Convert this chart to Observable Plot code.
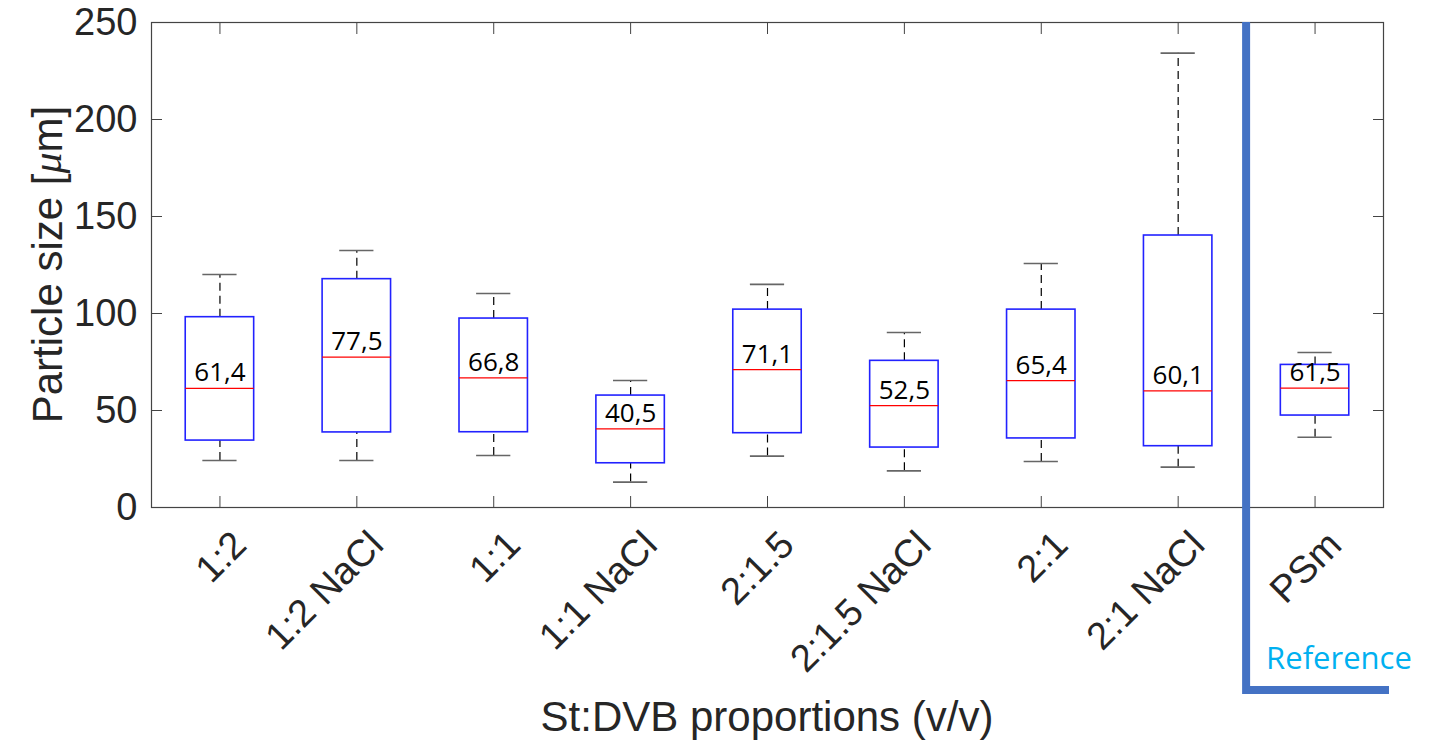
<!DOCTYPE html>
<html><head><meta charset="utf-8">
<script src="https://cdn.jsdelivr.net/npm/d3@7"></script>
<script src="https://cdn.jsdelivr.net/npm/@observablehq/plot@0.6"></script>
<style>body{margin:0;background:#fff;overflow:hidden}</style>
</head><body><div id="chart"></div>
<script>
// ---- data ----
const categories  = ["1:2", "1:2 NaCl", "1:1", "1:1 NaCl", "2:1.5", "2:1.5 NaCl", "2:1", "2:1 NaCl", "PSm"];
const whiskerLow  = [24.2, 24.2, 26.8, 13.1, 26.5, 18.9, 23.7, 20.8, 36.2];
const quartile1   = [34.5, 38.7, 38.8, 22.8, 38.3, 30.9, 35.6, 31.6, 47.4];
const medians     = [61.4, 77.5, 66.8, 40.5, 71.1, 52.5, 65.4, 60.1, 61.5];
const quartile3   = [98.1, 117.7, 97.4, 57.7, 102.0, 75.6, 102.0, 140.2, 73.5];
const whiskerHigh = [120.1, 132.5, 110.3, 65.5, 115.0, 90.2, 125.8, 234.2, 79.9];
const yTicks = [0, 50, 100, 150, 200, 250];
const referenceLabel = "Reference";
const xTitle = "St:DVB proportions (v/v)";

const rows = categories.map((c, i) => ({
  cat: c, pos: i + 1,
  lo: whiskerLow[i], q1: quartile1[i], med: medians[i], q3: quartile3[i], hi: whiskerHigh[i]
}));
const positions = rows.map(d => d.pos);
const boxHalf = 0.25, capHalf = 0.125;
const fmt = v => d3.format(".1f")(v).replace(".", ",");
const axisFont = "'Liberation Sans', Arial, Helvetica, sans-serif";
const ink = "#262626";

const plot = Plot.plot({
  width: 1448, height: 743,
  marginLeft: 151, marginRight: 65, marginTop: 22, marginBottom: 236,
  style: {fontFamily: axisFont, color: ink, background: "#fff", overflow: "visible"},
  x: {type: "linear", domain: [0.5, 9.5]},
  y: {domain: [0, 250]},
  marks: [
    // whiskers
    Plot.ruleX(rows, {x: "pos", y1: "q3", y2: "hi", stroke: "#000", strokeWidth: 1.2, strokeDasharray: "8,5"}),
    Plot.ruleX(rows, {x: "pos", y1: "lo", y2: "q1", stroke: "#000", strokeWidth: 1.2, strokeDasharray: "8,5"}),
    Plot.ruleY(rows, {y: "hi", x1: d => d.pos - capHalf, x2: d => d.pos + capHalf, stroke: "#666", strokeWidth: 1.6}),
    Plot.ruleY(rows, {y: "lo", x1: d => d.pos - capHalf, x2: d => d.pos + capHalf, stroke: "#666", strokeWidth: 1.6}),
    // boxes
    Plot.rect(rows, {x1: d => d.pos - boxHalf, x2: d => d.pos + boxHalf, y1: "q1", y2: "q3", fill: "#fff", stroke: "#2222ff", strokeWidth: 1.6}),
    Plot.ruleY(rows, {y: "med", x1: d => d.pos - boxHalf, x2: d => d.pos + boxHalf, stroke: "#ff0000", strokeWidth: 1.2}),
    // median labels
    Plot.text(rows, {x: "pos", y: "med", text: d => fmt(d.med), lineAnchor: "bottom", dy: -7,
      fontSize: 26, fontFamily: "'Open Sans', sans-serif", fill: "#000"}),
    // frame
    Plot.frame({stroke: "#444", strokeWidth: 1.2}),
    // axes with inward ticks
    Plot.axisY({ticks: yTicks, anchor: "left", tickSize: -11, tickPadding: 25, fontSize: 38, label: null, tickFormat: d => String(d), stroke: "#444"}),
    Plot.axisY({ticks: yTicks, anchor: "right", tickSize: -11, label: null, tickFormat: () => "", stroke: "#444"}),
    Plot.axisX({ticks: positions, anchor: "bottom", tickSize: -11, label: null, tickFormat: () => "", stroke: "#444"}),
    Plot.axisX({ticks: positions, anchor: "top", tickSize: -11, label: null, tickFormat: () => "", stroke: "#444"}),
    // rotated category labels
    Plot.text(rows, {x: "pos", frameAnchor: "bottom", text: "cat", rotate: -45, textAnchor: "end", lineAnchor: "middle",
      dx: 20, dy: 31, fontSize: 38, fill: ink})
  ]
});

document.getElementById("chart").appendChild(plot);

// annotations using the plot's own scales
const svg = d3.select(plot);
const xs = plot.scale("x"), ys = plot.scale("y");
const divX = xs.apply((categories.length - 1) + 0.5);
const topY = ys.apply(250), bottomY = ys.apply(0);
const lineBottom = bottomY + 183;
const lineRight = xs.apply(9.5) + 6;
svg.append("path")
  .attr("d", `M${divX},${topY}V${lineBottom}H${lineRight}`)
  .attr("fill", "none").attr("stroke", "#4472C4").attr("stroke-width", 8)
  .attr("stroke-linejoin", "miter");
svg.append("text")
  .attr("x", divX + 20).attr("y", lineBottom - 21).attr("text-anchor", "start")
  .attr("font-family", "'Open Sans', sans-serif").attr("font-size", 31)
  .attr("fill", "#00B0F0").text(referenceLabel);

// axis titles
const midX = (xs.apply(0.5) + xs.apply(9.5)) / 2;
svg.append("text")
  .attr("x", midX).attr("y", 731).attr("text-anchor", "middle")
  .attr("font-family", axisFont).attr("font-size", 42).attr("fill", ink).text(xTitle);
const yt = svg.append("text")
  .attr("transform", `translate(47,${(topY + bottomY) / 2}) rotate(-90)`)
  .attr("text-anchor", "middle").attr("dominant-baseline", "central")
  .attr("font-family", axisFont).attr("font-size", 42).attr("fill", ink);
yt.append("tspan").text("Particle size [");
yt.append("tspan").attr("font-style", "italic").attr("font-family", "'Liberation Serif', serif").text("μ");
yt.append("tspan").text("m]");
</script>
</body></html>
